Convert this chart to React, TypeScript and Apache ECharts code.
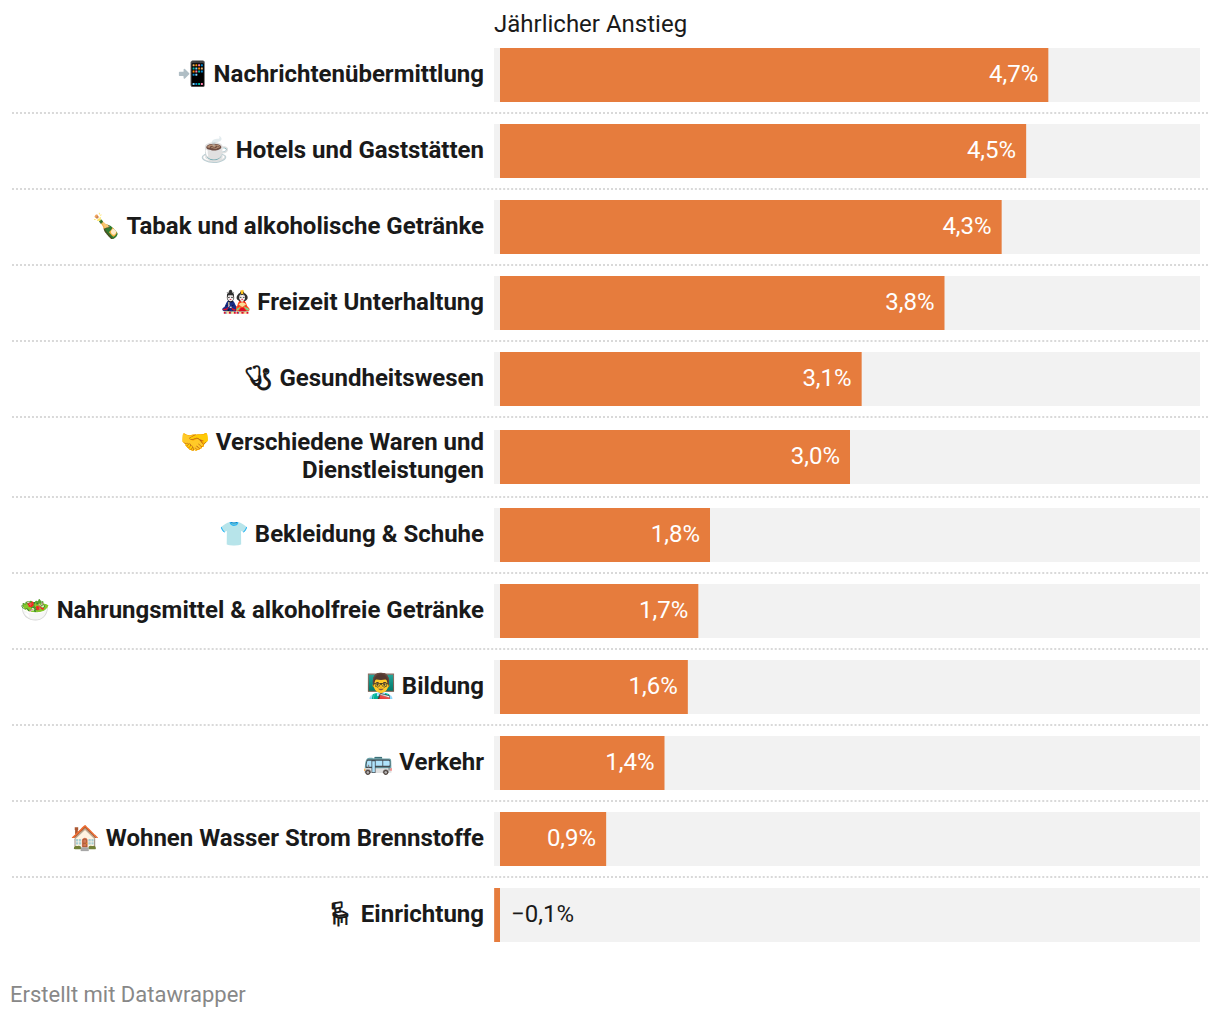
import React, { useEffect, useRef } from "react";
import * as echarts from "echarts";

const categories = [
  "📲 Nachrichtenübermittlung",
  "☕ Hotels und Gaststätten",
  "🍾 Tabak und alkoholische Getränke",
  "🎎 Freizeit Unterhaltung",
  "🩺\uFE0E Gesundheitswesen",
  "🤝 Verschiedene Waren und\nDienstleistungen",
  "👕 Bekleidung & Schuhe",
  "🥗 Nahrungsmittel & alkoholfreie Getränke",
  "👨‍🏫 Bildung",
  "🚌 Verkehr",
  "🏠 Wohnen Wasser Strom Brennstoffe",
  "🪑\uFE0E Einrichtung",
];
const values = [4.7, 4.51, 4.3, 3.81, 3.1, 3.0, 1.8, 1.7, 1.61, 1.41, 0.91, -0.05];
const valueLabels = ["4,7%", "4,5%", "4,3%", "3,8%", "3,1%", "3,0%", "1,8%", "1,7%", "1,6%", "1,4%", "0,9%", "−0,1%"];
const axisMin = -0.0514;
const axisMax = 6;
const title = "Jährlicher Anstieg";
const credit = "Erstellt mit Datawrapper";
const separatorYs = [113, 189, 265, 341, 417, 497, 573, 649, 725, 801, 877];

const FONT = "Roboto, 'Noto Color Emoji', sans-serif";
const ORANGE = "#e67c3d";
const INK = "#1a1a1a";

const panels = [
  { from: 0, to: 5, top: 37, height: 380 },
  { from: 5, to: 6, top: 419, height: 76 },
  { from: 6, to: 12, top: 497, height: 456 },
];
// The category labels sit one pixel above the bar centres, so they live on their own grids.
const LABEL_RISE = 1;

export default function App() {
  const ref = useRef<HTMLDivElement>(null);
  useEffect(() => {
    document.body.style.margin = "0";
    const chart = echarts.init(ref.current!, null, { renderer: "svg" });
    const n = panels.length;
    chart.setOption({
      animation: false,
      backgroundColor: "#ffffff",
      textStyle: { fontFamily: FONT },
      grid: [
        ...panels.map((p) => ({ left: 494, width: 706, top: p.top, height: p.height })),
        ...panels.map((p) => ({ left: 494, width: 706, top: p.top - LABEL_RISE, height: p.height })),
      ],
      xAxis: [...panels, ...panels].map((_, i) => ({
        type: "value",
        gridIndex: i,
        min: axisMin,
        max: axisMax,
        show: false,
      })),
      yAxis: [
        ...panels.map((p, i) => ({
          type: "category",
          gridIndex: i,
          inverse: true,
          data: categories.slice(p.from, p.to),
          show: false,
        })),
        ...panels.map((p, i) => ({
          type: "category",
          gridIndex: n + i,
          inverse: true,
          data: categories.slice(p.from, p.to),
          axisLine: { show: false, onZero: false },
          axisTick: { show: false },
          splitLine: { show: false },
          axisLabel: {
            show: true,
            interval: 0,
            margin: 10,
            align: "right",
            verticalAlign: "middle",
            fontFamily: FONT,
            fontSize: 24,
            fontWeight: 700,
            lineHeight: 28,
            color: INK,
          },
        })),
      ],
      series: panels.map((p, i) => ({
        type: "bar",
        xAxisIndex: i,
        yAxisIndex: i,
        barWidth: 54,
        showBackground: true,
        backgroundStyle: { color: "#f2f2f2" },
        itemStyle: { color: ORANGE },
        data: values.slice(p.from, p.to).map((v, k) => {
          const text = valueLabels[p.from + k];
          return {
            value: v,
            label:
              v < 0
                ? { show: true, position: "right", distance: 11, offset: [0, -1], formatter: text, color: INK, fontFamily: FONT, fontSize: 24, fontWeight: 400 }
                : { show: true, position: "insideRight", distance: 10, offset: [0, -1], formatter: text, color: "#ffffff", fontFamily: FONT, fontSize: 24, fontWeight: 400 },
          };
        }),
      })),
      graphic: [
        ...separatorYs.map((y) => ({
          type: "line",
          silent: true,
          shape: { x1: 12, y1: y, x2: 1208, y2: y },
          style: { stroke: "#d9d9d9", lineWidth: 2, lineDash: [2, 1.9933] },
        })),
        { type: "text", x: 494, y: 12, style: { text: title, fontFamily: FONT, fontSize: 24, fontWeight: 400, fill: INK } },
        { type: "text", x: 10, y: 983, style: { text: credit, fontFamily: FONT, fontSize: 22, fontWeight: 400, fill: "#888888" } },
      ],
    });
    return () => chart.dispose();
  }, []);
  return <div ref={ref} style={{ position: "absolute", left: 0, top: 0, width: 1220, height: 1018 }} />;
}
